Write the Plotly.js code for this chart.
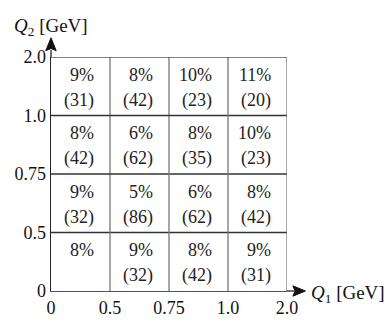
<!DOCTYPE html>
<html>
<head>
<meta charset="utf-8">
<script src="https://cdn.plot.ly/plotly-3.0.1.min.js"></script>
<style>html,body{margin:0;padding:0;background:#fff;}#chart{width:388px;height:327px;}</style>
</head>
<body>
<div id="chart"></div>
<script>
// Bin edges (GeV)
const q1Edges = ['0', '0.5', '0.75', '1.0', '2.0'];
const q2Edges = ['0', '0.5', '0.75', '1.0', '2.0'];
// Rows from bottom (Q2 bin 0) to top; columns are Q1 bins
const percents = [
  ['8%', '9%', '8%', '9%'],
  ['9%', '5%', '6%', '8%'],
  ['8%', '6%', '8%', '10%'],
  ['9%', '8%', '10%', '11%']
];
const counts = [
  ['', '(32)', '(42)', '(31)'],
  ['(32)', '(86)', '(62)', '(42)'],
  ['(42)', '(62)', '(35)', '(23)'],
  ['(31)', '(42)', '(23)', '(20)']
];

const FONT = 'Liberation Serif, DejaVu Serif, serif';
const FS = 18;
const annotations = [];
for (let r = 0; r < percents.length; r++) {
  for (let c = 0; c < percents[r].length; c++) {
    annotations.push({x: c + 0.77, y: r + 0.70, xref: 'x', yref: 'y', text: percents[r][c],
      showarrow: false, xanchor: 'right', yanchor: 'middle', font: {family: FONT, size: FS, color: '#222'}});
    if (counts[r][c]) {
      annotations.push({x: c + 0.77, y: r + 0.26, xref: 'x', yref: 'y', text: counts[r][c],
        showarrow: false, xanchor: 'right', yanchor: 'middle', font: {family: FONT, size: FS, color: '#222'}});
    }
  }
}
// axis titles
annotations.push({x: -0.165, y: 1.128, xref: 'paper', yref: 'paper', xanchor: 'left', yanchor: 'middle',
  showarrow: false, text: '<i>Q</i><sub>2</sub> [GeV]', font: {family: FONT, size: 19, color: '#111'}});
annotations.push({x: 1.095, y: -0.012, xref: 'paper', yref: 'paper', xanchor: 'left', yanchor: 'middle',
  showarrow: false, text: '<i>Q</i><sub>1</sub> [GeV]', font: {family: FONT, size: 19, color: '#111'}});

const shapes = [];
for (let i = 1; i <= 4; i++) {
  shapes.push({type: 'line', xref: 'x', yref: 'y', x0: 0, x1: 4, y0: i, y1: i, line: {color: i === 4 ? '#555' : '#333', width: 1.3}});
  shapes.push({type: 'line', xref: 'x', yref: 'y', x0: i, x1: i, y0: 0, y1: 4, line: {color: '#777', width: 1.3}});
}
// axis arrows (paper coords)
shapes.push({type: 'line', xref: 'paper', yref: 'paper', x0: 1, x1: 1.03, y0: 0, y1: 0, line: {color: '#222', width: 1.3}});
shapes.push({type: 'path', xref: 'paper', yref: 'paper', path: 'M 1.025 -0.022 L 1.078 0 L 1.025 0.022 L 1.034 0 Z',
  fillcolor: '#111', line: {color: '#111', width: 1}});
shapes.push({type: 'line', xref: 'paper', yref: 'paper', x0: 0, x1: 0, y0: 1, y1: 1.03, line: {color: '#222', width: 1.3}});
shapes.push({type: 'path', xref: 'paper', yref: 'paper', path: 'M -0.022 1.027 L 0 1.082 L 0.022 1.027 L 0 1.036 Z',
  fillcolor: '#111', line: {color: '#111', width: 1}});

const layout = {
  width: 388, height: 327,
  margin: {l: 51, r: 101, t: 57, b: 36},
  paper_bgcolor: '#fff', plot_bgcolor: '#fff',
  showlegend: false,
  xaxis: {range: [0, 4], tickvals: [0, 1, 2, 3, 4], ticktext: q1Edges, showgrid: false, zeroline: false,
    showline: true, linecolor: '#555', linewidth: 1.3, ticks: '', fixedrange: true,
    tickfont: {family: FONT, size: FS, color: '#111'}},
  yaxis: {range: [0, 4], tickvals: [0, 1, 2, 3, 4], ticktext: q2Edges, showgrid: false, zeroline: false,
    showline: true, linecolor: '#222', linewidth: 1.3, ticks: '', fixedrange: true, ticklabelstandoff: 0,
    tickfont: {family: FONT, size: FS, color: '#111'}},
  annotations: annotations,
  shapes: shapes
};

Plotly.newPlot('chart', [{type: 'scatter', x: [], y: [], mode: 'markers'}], layout, {displayModeBar: false, staticPlot: true});
</script>
</body>
</html>
